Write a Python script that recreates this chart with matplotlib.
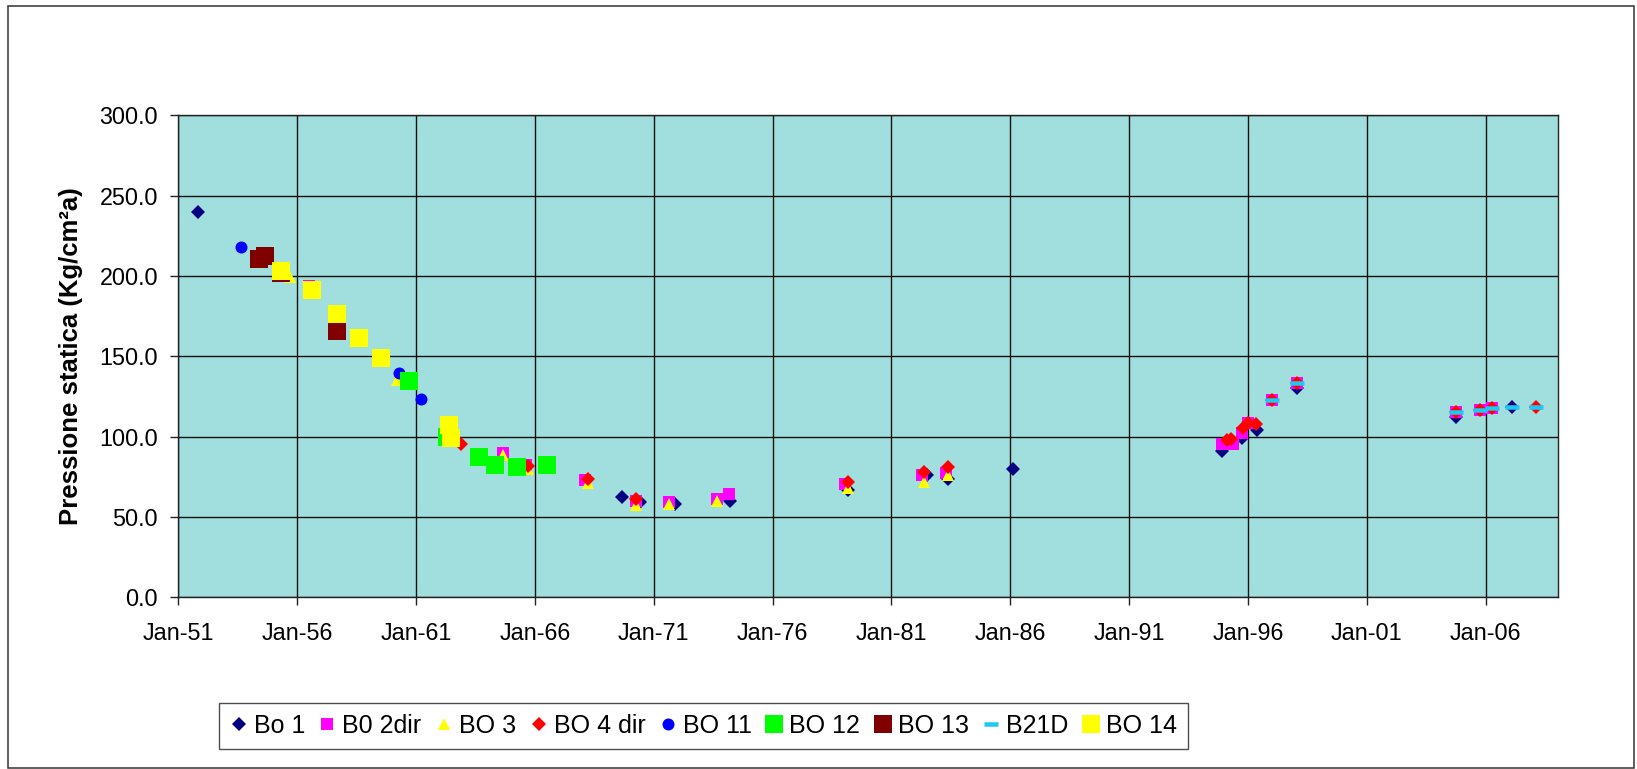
import datetime as dt
import matplotlib
matplotlib.use("Agg")
import matplotlib.pyplot as plt
import matplotlib.dates as mdates
from matplotlib.patches import Rectangle
from matplotlib.ticker import FuncFormatter

plt.rcParams['font.family'] = ['Liberation Sans', 'DejaVu Sans']

# ---- data (decimal year, pressure) ----
bo1_t = [1951.84, 1969.68, 1970.43, 1971.90, 1974.21, 1979.19, 1982.49, 1983.39, 1986.13,
         1994.90, 1995.74, 1996.37, 1998.05, 2004.75, 2007.10]
bo1_v = [240.0, 62.3, 59.5, 58.1, 60.1, 66.8, 76.3, 73.5, 79.7,
         91.3, 99.0, 104.1, 130.0, 112.1, 118.6]

b02_t = [1956.51, 1964.67, 1965.63, 1968.11, 1970.26, 1971.66, 1973.68, 1974.18, 1979.05,
         1982.27, 1983.28, 1994.90, 1995.38, 1995.74, 1996.01, 1997.00, 1998.05,
         2004.75, 2005.76, 2006.25]
b02_v = [193.9, 90.0, 82.5, 73.0, 60.1, 59.1, 61.2, 64.1, 70.3,
         76.1, 77.6, 95.2, 95.4, 102.1, 108.3, 122.8, 133.2,
         115.5, 116.6, 117.7]

bo3_t = [1955.70, 1960.19, 1964.67, 1965.70, 1968.22, 1970.26, 1971.66, 1973.68,
         1979.19, 1982.37, 1983.39]
bo3_v = [199.6, 135.3, 88.6, 79.9, 71.2, 57.5, 58.1, 60.1, 67.9, 72.0, 76.1]

bo4_t = [1962.91, 1965.70, 1968.22, 1970.26, 1979.19, 1982.37, 1983.39, 1995.11, 1995.27,
         1995.80, 1996.01, 1996.34, 1997.00, 1998.05, 2004.75, 2005.76, 2006.25, 2008.12]
bo4_v = [95.4, 81.9, 73.5, 61.2, 72.0, 78.2, 80.9, 97.9, 98.5,
         105.2, 108.3, 107.9, 122.8, 133.2, 115.5, 116.6, 117.7, 118.3]

bo11_t = [1953.64, 1960.30, 1961.22]
bo11_v = [218.3, 139.8, 123.6]

bo12_t = [1960.69, 1962.30, 1963.66, 1964.34, 1965.24, 1966.52]
bo12_v = [134.6, 100.0, 87.5, 82.4, 81.3, 82.4]

bo13_t = [1954.41, 1954.65, 1955.32, 1957.66]
bo13_v = [210.8, 212.5, 201.6, 166.0]

b21_t = [1997.00, 1998.05, 2004.75, 2005.76, 2006.25, 2007.10, 2008.12]
b21_v = [122.8, 133.2, 115.5, 116.6, 117.7, 118.6, 118.3]

bo14_t = [1955.32, 1956.61, 1957.66, 1958.61, 1959.51, 1962.38, 1962.47]
bo14_v = [203.1, 191.3, 176.2, 161.2, 148.8, 107.3, 99.0]

labels = ['Bo 1', 'B0 2dir', 'BO 3', 'BO 4 dir', 'BO 11', 'BO 12', 'BO 13', 'B21D', 'BO 14']
y_ticks = [0, 50, 100, 150, 200, 250, 300]
x_tick_years = [1951, 1956, 1961, 1966, 1971, 1976, 1981, 1986, 1991, 1996, 2001, 2006]


def to_date(y):
    year = int(y)
    start = dt.datetime(year, 1, 1)
    end = dt.datetime(year + 1, 1, 1)
    return start + (end - start) * (y - year)


def dates(ts):
    return [to_date(t) for t in ts]


W, H = 1637, 769
fig = plt.figure(figsize=(W / 100, H / 100), dpi=100)
ax = fig.add_axes([178.3 / W, 1 - 597.3 / H, (1558.3 - 178.3) / W, (597.3 - 115.4) / H])
ax.set_facecolor('#A1DFDF')

px = 72 / 100.0  # points per pixel
series = [
    (bo1_t, bo1_v, dict(marker='D', color='#000080', ms=9.2 * px)),
    (b02_t, b02_v, dict(marker='s', color='#FF00FF', ms=12 * px)),
    (bo3_t, bo3_v, dict(marker='^', color='#FFFF00', ms=12.5 * px)),
    (bo4_t, bo4_v, dict(marker='D', color='#FF0000', ms=9.5 * px)),
    (bo11_t, bo11_v, dict(marker='o', color='#0000FF', ms=12 * px)),
    (bo12_t, bo12_v, dict(marker='s', color='#00FF00', ms=18.5 * px)),
    (bo13_t, bo13_v, dict(marker='s', color='#800000', ms=18.5 * px)),
    (b21_t, b21_v, dict(marker='_', color='#1EC8F5', ms=14 * px, mew=4.5 * px)),
    (bo14_t, bo14_v, dict(marker='s', color='#FFFF00', ms=18 * px)),
]
handles = []
for (t, v, st), lab in zip(series, labels):
    mew = st.pop('mew', 0)
    h, = ax.plot(dates(t), v, linestyle='none', marker=st['marker'], markersize=st['ms'],
                 markerfacecolor=st['color'], markeredgecolor=st['color'],
                 markeredgewidth=mew, label=lab, zorder=3)
    handles.append(h)

ax.set_xlim(dt.datetime(1951, 1, 1), dt.datetime(2009, 1, 20))
ax.set_ylim(0, 300)
ax.set_xticks([dt.datetime(y, 1, 1) for y in x_tick_years])
ax.xaxis.set_major_formatter(mdates.DateFormatter('%b-%y'))
ax.set_yticks(y_ticks)
ax.yaxis.set_major_formatter(FuncFormatter(lambda v, p: f'{v:.1f}'))
ax.grid(True, color='#111111', linewidth=1.0)
ax.set_axisbelow(True)
for s in ax.spines.values():
    s.set_color('#222222')
    s.set_linewidth(1.0)
ax.tick_params(axis='both', direction='out', length=5.5, width=1.0, color='#222222',
               labelsize=16.8)
ax.tick_params(axis='y', pad=9)
ax.tick_params(axis='x', pad=12)
ax.set_ylabel('Pressione statica (Kg/cm²a)', fontsize=18.5, fontweight='bold', labelpad=12)

leg = fig.legend(handles=handles, labels=labels, loc='center', ncol=9,
                 bbox_to_anchor=(703.5 / W, 1 - 726 / H), fontsize=18,
                 frameon=True, fancybox=False, edgecolor='#222222',
                 handlelength=0.7, handletextpad=0.25, columnspacing=0.55,
                 borderpad=0.45, numpoints=1)
leg.get_frame().set_linewidth(1.0)

fig.patches.append(Rectangle((8 / W, 1 / H), (1634 - 8) / W, (768 - 6) / H,
                             transform=fig.transFigure, fill=False,
                             edgecolor='#333333', linewidth=1.1))

fig.savefig('out.png', dpi=100)
